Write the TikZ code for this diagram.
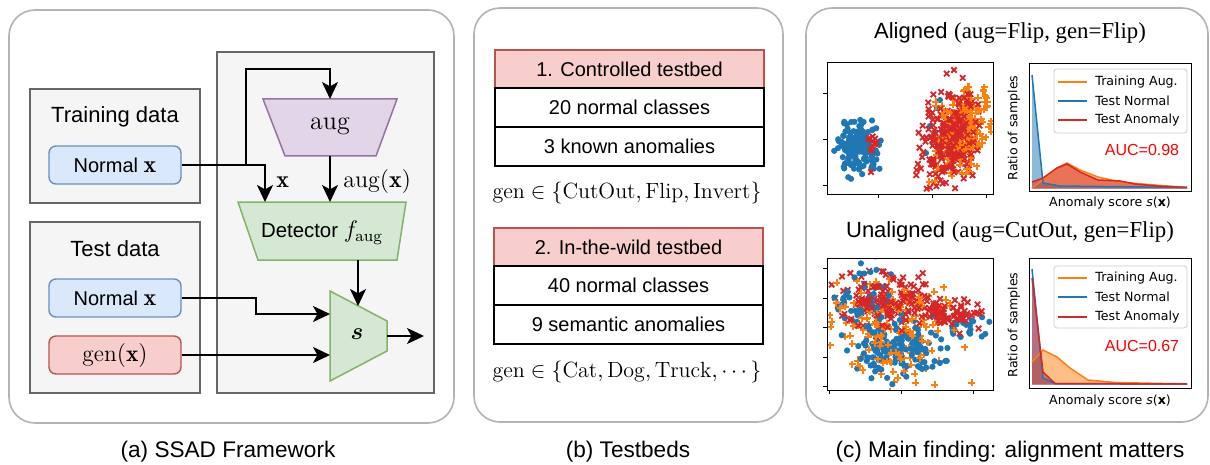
\documentclass[tikz,border=0pt]{standalone}
\usepackage{amsmath,amsfonts}
\usepackage{fontspec}
\usetikzlibrary{arrows.meta,positioning}
\newfontfamily\helv{Liberation Sans}
\newfontfamily\tims{Liberation Serif}
\newfontfamily\dejav{DejaVu Sans}
\definecolor{panelgray}{HTML}{B3B3B3}
\definecolor{boxfill}{HTML}{F5F5F5}
\definecolor{boxline}{HTML}{666666}
\definecolor{bluefill}{HTML}{DAE8FC}
\definecolor{blueline}{HTML}{6C8EBF}
\definecolor{redfill}{HTML}{F8CECC}
\definecolor{redline}{HTML}{B85450}
\definecolor{purfill}{HTML}{E1D5E7}
\definecolor{purline}{HTML}{9673A6}
\definecolor{grnfill}{HTML}{D5E8D4}
\definecolor{grnline}{HTML}{82B366}
\definecolor{tabblue}{HTML}{1F77B4}
\definecolor{taborange}{HTML}{FF7F0E}
\definecolor{tabred}{HTML}{D62728}
% scatter markers
\newcommand\bluedot[2]{\fill[tabblue] (#1,#2) circle (3.1);}
\newcommand\orplus[2]{\draw[taborange,line width=1pt] (#1-3.5,#2) -- (#1+3.5,#2) (#1,#2-3.5) -- (#1,#2+3.5);}
\newcommand\redcross[2]{\draw[tabred,line width=0.9pt] (#1-2.7,#2-2.7) -- (#1+2.7,#2+2.7) (#1-2.7,#2+2.7) -- (#1+2.7,#2-2.7);}
% count, marker, cx, cy, sx, sy, tilt
\newcommand\cloud[7]{\foreach \i in {1,...,#1}{%
  \pgfmathsetmacro\pty{#4+#6*(rand+rand+rand)}%
  \pgfmathsetmacro\ptx{#3+#7*(\pty-#4)+#5*(rand+rand+rand)}%
  #2{\ptx}{\pty}}}
\newcommand\bx{{\fontsize{12}{14}\selectfont$\mathbf{x}$}}

\begin{document}
\begin{tikzpicture}[
  x=0.5pt,y=-0.5pt,
  panel/.style={draw=panelgray,line width=0.8pt,rounded corners=13pt,fill=white},
  greybox/.style={draw=boxline,fill=boxfill,line width=0.75pt},
  databox/.style={rounded corners=3.5pt,line width=0.7pt,minimum width=66pt,minimum height=19pt,inner sep=0pt,font=\helv\fontsize{10}{12}\selectfont},
  normbox/.style={databox,draw=blueline,fill=bluefill},
  genbox/.style={databox,draw=redline,fill=redfill},
  head/.style={font=\helv\fontsize{11}{13}\selectfont},
  capt/.style={font=\helv\fontsize{11.3}{13}\selectfont},
  flow/.style={line width=1pt,-{Stealth[length=8.5pt,width=8pt,inset=2.2pt]}},
  cellhead/.style={draw=redline,fill=redfill,line width=0.8pt,minimum width=134.5pt,minimum height=19pt,inner sep=0pt,outer sep=0pt,font=\helv\fontsize{10}{12}\selectfont},
  cell/.style={draw=black,fill=white,line width=1pt,minimum width=134.5pt,minimum height=19.5pt,inner sep=0pt,outer sep=0pt,font=\helv\fontsize{10}{12}\selectfont},
  axisline/.style={line width=0.4pt,black},
  legtext/.style={anchor=west,inner sep=0pt,font=\dejav\fontsize{6.3}{7}\selectfont},
  plotlabel/.style={inner sep=0pt,font=\dejav\fontsize{6.3}{7}\selectfont},
  auc/.style={inner sep=0pt,text=red,font=\helv\fontsize{8}{9}\selectfont}
]
\useasboundingbox (0,0) rectangle (1210,465);

% (a) framework
\draw[panel] (9,10) rectangle (454,423);
\draw[greybox] (30,89) rectangle (200,203);
\draw[greybox] (30,222) rectangle (200,393);
\draw[greybox] (217,52) rectangle (434,393);
\node[head] (trhead) at (115,117) {Training data};
\node[normbox] (trnorm) at (115,165) {Normal \bx};
\node[head] (tehead) at (115,249) {Test data};
\node[normbox] (tenorm) at (115,298) {Normal \bx};
\node[genbox,font=\fontsize{11.7}{13}\selectfont] (tegen) at (115,355) {$\mathrm{gen}(\mathbf{x})$};

% trapezoid blocks
\draw[fill=purfill,draw=purline,line width=0.75pt] (263,99) -- (397,99) -- (376,156) -- (285,156) -- cycle;
\node[font=\fontsize{13}{15}\selectfont] (aug) at (330,126) {$\mathrm{aug}$};
\draw[fill=grnfill,draw=grnline,line width=0.75pt] (238,202) -- (406,202) -- (397,260) -- (258,260) -- cycle;
\node[font=\helv\fontsize{10.2}{12}\selectfont] (det) at (322,233) {Detector \fontsize{11.5}{13}\selectfont$f_{\mathrm{aug}}$};
\draw[fill=grnfill,draw=grnline,line width=0.75pt] (330,291) -- (387,321) -- (387,351) -- (330,381) -- cycle;
\node[font=\fontsize{12}{14}\selectfont] (score) at (357,334) {$\boldsymbol{s}$};

% connector ends
\coordinate (split) at (246,165);
\coordinate (augturn) at (330,69);
\coordinate (augin) at (330,99);
\coordinate (augout) at (330,156);
\coordinate (detinx) at (265,202);
\coordinate (detinaug) at (330,202);
\coordinate (detout) at (358,260);
\coordinate (sin1) at (358,306);
\coordinate (sin2) at (330,314);
\coordinate (sin3) at (330,356);
\coordinate (sout) at (424,336);

% arrows
\draw[flow] (trnorm.east) -| (detinx);
\draw[flow] (split) |- (augturn) -- (augin);
\draw[flow] (augout) -- (detinaug);
\draw[flow] (detout) -- (sin1);
\draw[flow] (tenorm.east) -- ++(74,0) |- (sin2);
\draw[flow] (tegen.east) -- (tegen.east -| sin3);
\draw[flow] (387,336) -- (sout);
\node[anchor=west,inner sep=0pt,font=\fontsize{12}{14}\selectfont] (xlab) at (276,182) {$\mathbf{x}$};
\node[anchor=west,inner sep=0pt,font=\fontsize{12}{14}\selectfont] (auglab) at (343,181) {$\mathrm{aug}(\mathbf{x})$};
\node[capt] (capa) at (228,452) {(a) SSAD Framework};

% (b) testbeds
\draw[panel] (474,8) rectangle (783,422);
\node[cellhead] (bed1) at (629.5,69) {1. Controlled testbed};
\node[cell,below=0pt of bed1] (bed1a) {20 normal classes};
\node[cell,below=0pt of bed1a] (bed1b) {3 known anomalies};
\node[font=\fontsize{11}{13}\selectfont] (gen1) at (627,193) {$\mathrm{gen}\in\{\mathrm{CutOut},\mathrm{Flip},\mathrm{Invert}\}$};
\node[cellhead] (bed2) at (628.5,247) {2. In-the-wild testbed};
\node[cell,below=0pt of bed2] (bed2a) {40 normal classes};
\node[cell,below=0pt of bed2a] (bed2b) {9 semantic anomalies};
\node[font=\fontsize{11}{13}\selectfont] (gen2) at (627,372) {$\mathrm{gen}\in\{\mathrm{Cat},\mathrm{Dog},\mathrm{Truck},\cdots\}$};
\node[capt] (capb) at (628,452) {(b) Testbeds};

% (c) main finding
\draw[panel] (806,8) rectangle (1208,422);
\node (ttl1) at (1010,33) {{\helv\fontsize{11}{13}\selectfont Aligned} {\tims\fontsize{11.4}{13}\selectfont (aug=Flip, gen=Flip)}};
\node (ttl2) at (1010,232) {{\helv\fontsize{11}{13}\selectfont Unaligned} {\tims\fontsize{11.4}{13}\selectfont (aug=CutOut, gen=Flip)}};
\node[capt] (capc) at (1010,452) {(c) Main finding: alignment matters};

% aligned scatter
\pgfmathsetseed{7}
\begin{scope}
  \clip (827,62) rectangle (993,194);
  \cloud{160}{\bluedot}{856}{148}{10}{13}{0}
  \foreach \cx/\cy in {937/108,930/126,935/132,926/153,940/100}{\bluedot{\cx}{\cy}}
  \cloud{10}{\redcross}{871}{142}{4}{5}{0}
  \cloud{130}{\redcross}{950}{140}{14}{23}{-0.2}
  \cloud{200}{\orplus}{961}{132}{12}{22}{-0.2}
  \cloud{130}{\redcross}{952}{136}{14}{23}{-0.2}
  \redcross{871}{172}
  \redcross{954}{70}
\end{scope}
\draw[axisline] (827,62) rectangle (993,194);
\foreach \ty in {93,139,185} \draw[axisline] (827,\ty) -- ++(-4,0);
\foreach \tx in {878,932,986} \draw[axisline] (\tx,194) -- ++(0,4);

% unaligned scatter
\begin{scope}
  \clip (827,258) rectangle (993,390);
  \cloud{70}{\redcross}{885}{300}{24}{14}{0}
  \cloud{90}{\orplus}{895}{330}{28}{24}{0}
  \cloud{130}{\bluedot}{902}{350}{22}{14}{0}
  \cloud{60}{\bluedot}{862}{305}{18}{20}{0}
  \cloud{20}{\bluedot}{965}{330}{12}{8}{0}
  \cloud{80}{\orplus}{895}{330}{28}{24}{0}
  \cloud{70}{\redcross}{885}{300}{24}{14}{0}
  \cloud{75}{\redcross}{948}{312}{15}{8}{0}
\end{scope}
\draw[axisline] (827,258) rectangle (993,390);
\foreach \ty in {268,298,327,357,386} \draw[axisline] (827,\ty) -- ++(-4,0);
\foreach \tx in {829,901,973} \draw[axisline] (\tx,390) -- ++(0,4);

% aligned histogram
\fill[taborange,opacity=0.5] (1032,188.5) -- (1043,180) -- (1057,168) -- (1067,163) -- (1080,170) -- (1098,177) -- (1120,182) -- (1142,184) -- (1187,187.5) -- (1187,188.5) -- cycle;
\fill[tabblue,opacity=0.5] (1032,188.5) -- (1032,75) -- (1043,183) -- (1060,186) -- (1187,187.5) -- (1187,188.5) -- cycle;
\fill[tabred,opacity=0.5] (1032,188.5) -- (1032,182) -- (1043,178) -- (1057,168) -- (1067,164) -- (1080,172) -- (1098,180) -- (1120,181) -- (1135,184) -- (1157,186) -- (1187,187.5) -- (1187,188.5) -- cycle;
\draw[taborange,line width=0.75pt] (1032,188) -- (1043,180) -- (1057,168) -- (1067,163) -- (1080,170) -- (1098,177) -- (1120,182) -- (1142,184) -- (1187,187.5);
\draw[tabblue,line width=0.75pt] (1032,75) -- (1043,183) -- (1060,186) -- (1187,187.5);
\draw[tabred,line width=0.75pt] (1032,182) -- (1043,178) -- (1057,168) -- (1067,164) -- (1080,172) -- (1098,180) -- (1120,181) -- (1135,184) -- (1157,186) -- (1187,187.5);
\draw[axisline] (1029,63) rectangle (1191,191);
\draw[draw=black!20,fill=white,fill opacity=0.8,rounded corners=1.5pt,line width=0.4pt] (1054,69) rectangle (1187,133);
\draw[taborange,line width=0.75pt] (1058,82) -- (1087,82);
\draw[tabblue,line width=0.75pt] (1058,101) -- (1087,101);
\draw[tabred,line width=0.75pt] (1058,120) -- (1087,120);
\node[legtext] (lg1a) at (1095,82) {Training Aug.};
\node[legtext] (lg1b) at (1095,101) {Test Normal};
\node[legtext] (lg1c) at (1095,120) {Test Anomaly};
\node[auc] (auc1) at (1142,150) {AUC=0.98};
\node[plotlabel,rotate=90] (ylab1) at (1014,128) {Ratio of samples};
\node[plotlabel] (xlab1) at (1110,203) {Anomaly score {\itshape s}({\bfseries x})};

% unaligned histogram
\fill[taborange,opacity=0.5] (1032,384.5) -- (1032,362) -- (1043,350) -- (1057,357) -- (1070,368) -- (1088,380) -- (1115,382.5) -- (1187,384) -- (1187,384.5) -- cycle;
\fill[tabblue,opacity=0.5] (1032,384.5) -- (1032,269) -- (1043,378) -- (1055,383.5) -- (1187,384) -- (1187,384.5) -- cycle;
\fill[tabred,opacity=0.5] (1032,384.5) -- (1032,278) -- (1043,372) -- (1055,383.5) -- (1187,384) -- (1187,384.5) -- cycle;
\draw[taborange,line width=0.75pt] (1032,362) -- (1043,350) -- (1057,357) -- (1070,368) -- (1088,380) -- (1115,382.5) -- (1187,384);
\draw[tabblue,line width=0.75pt] (1032,269) -- (1043,378) -- (1055,383.5) -- (1187,384);
\draw[tabred,line width=0.75pt] (1032,278) -- (1043,372) -- (1055,383.5) -- (1187,384);
\draw[axisline] (1029,258) rectangle (1191,388);
\draw[draw=black!20,fill=white,fill opacity=0.8,rounded corners=1.5pt,line width=0.4pt] (1054,266) rectangle (1187,328);
\draw[taborange,line width=0.75pt] (1058,278) -- (1087,278);
\draw[tabblue,line width=0.75pt] (1058,297) -- (1087,297);
\draw[tabred,line width=0.75pt] (1058,317) -- (1087,317);
\node[legtext] (lg2a) at (1095,278) {Training Aug.};
\node[legtext] (lg2b) at (1095,297) {Test Normal};
\node[legtext] (lg2c) at (1095,317) {Test Anomaly};
\node[auc] (auc2) at (1142,346) {AUC=0.67};
\node[plotlabel,rotate=90] (ylab2) at (1014,325) {Ratio of samples};
\node[plotlabel] (xlab2) at (1110,401) {Anomaly score {\itshape s}({\bfseries x})};
\end{tikzpicture}
\end{document}
